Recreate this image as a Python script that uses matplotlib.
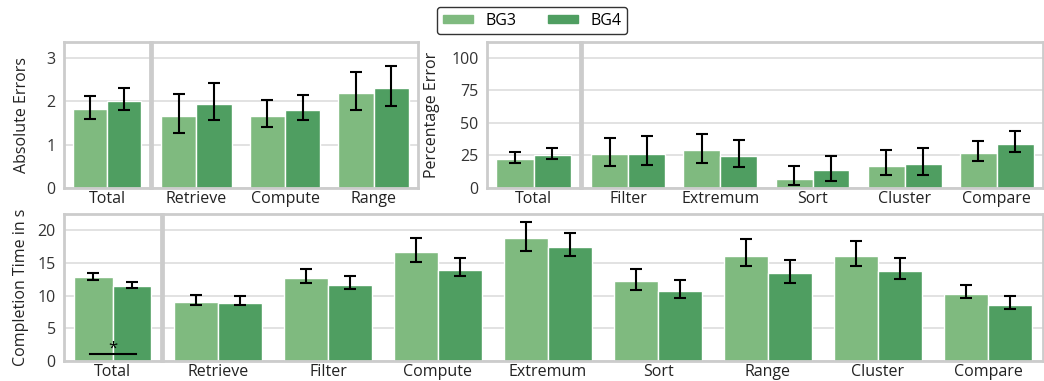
import numpy as np
import matplotlib
matplotlib.use("Agg")
import matplotlib.pyplot as plt
from matplotlib.patches import Patch

plt.rcParams['font.family'] = ['Open Sans', 'DejaVu Sans']
plt.rcParams['font.size'] = 11.5

# ---- data ----
abs_cats = ["Total", "Retrieve", "Compute", "Range"]
abs_bg3 = [1.82, 1.67, 1.67, 2.19]
abs_bg3_lo = [1.60, 1.26, 1.40, 1.81]
abs_bg3_hi = [2.12, 2.18, 2.02, 2.67]
abs_bg4 = [2.01, 1.94, 1.81, 2.30]
abs_bg4_lo = [1.80, 1.57, 1.57, 1.90]
abs_bg4_hi = [2.31, 2.43, 2.15, 2.81]

pct_cats = ["Total", "Filter", "Extremum", "Sort", "Cluster", "Compare"]
pct_bg3 = [22.5, 26.4, 29.5, 7.2, 16.8, 27.1]
pct_bg3_lo = [19.1, 16.5, 19.4, 2.3, 10.1, 20.4]
pct_bg3_hi = [27.4, 38.2, 41.6, 16.5, 28.9, 35.9]
pct_bg4 = [25.1, 26.4, 24.8, 13.7, 18.3, 34.1]
pct_bg4_lo = [22.0, 17.6, 16.3, 5.2, 10.1, 27.4]
pct_bg4_hi = [30.7, 39.8, 37.0, 24.3, 30.5, 43.9]

time_cats = ["Total", "Retrieve", "Filter", "Compute", "Extremum", "Sort",
             "Range", "Cluster", "Compare"]
time_bg3 = [12.8, 9.0, 12.7, 16.7, 18.8, 12.2, 16.1, 16.1, 10.3]
time_bg3_lo = [12.4, 8.6, 11.9, 15.1, 16.8, 10.9, 14.5, 14.5, 9.6]
time_bg3_hi = [13.5, 10.1, 14.1, 18.9, 21.2, 14.1, 18.6, 18.3, 11.6]
time_bg4 = [11.5, 8.95, 11.7, 13.9, 17.5, 10.7, 13.4, 13.8, 8.6]
time_bg4_lo = [11.2, 8.5, 11.0, 13.0, 16.1, 9.6, 11.9, 12.6, 7.9]
time_bg4_hi = [12.1, 9.9, 13.0, 15.7, 19.6, 12.4, 15.5, 15.7, 10.0]

c3 = "#7fba7f"
c4 = "#4f9e61"
spine_c = "#cccccc"
grid_c = "#dddddd"

W, H = 1044, 381
fig = plt.figure(figsize=(W / 100, H / 100), dpi=100)


def box(x0, x1, y0, y1):
    return [x0 / W, 1 - y1 / H, (x1 - x0) / W, (y1 - y0) / H]


def panel(rect, cats, v3, lo3, hi3, v4, lo4, hi4, ylim, yticks, show_y):
    ax = fig.add_axes(rect)
    x = np.arange(len(cats))
    v3, v4 = np.array(v3), np.array(v4)
    ax.bar(x - 0.2, v3, 0.4, color=c3, edgecolor="white", linewidth=1, zorder=2)
    ax.bar(x + 0.2, v4, 0.4, color=c4, edgecolor="white", linewidth=1, zorder=2)
    ax.errorbar(x - 0.2, v3, yerr=[v3 - np.array(lo3), np.array(hi3) - v3],
                fmt="none", ecolor="black", elinewidth=1.5, capsize=4,
                capthick=1.5, zorder=3)
    ax.errorbar(x + 0.2, v4, yerr=[v4 - np.array(lo4), np.array(hi4) - v4],
                fmt="none", ecolor="black", elinewidth=1.5, capsize=4,
                capthick=1.5, zorder=3)
    ax.set_xlim(-0.5, len(cats) - 0.5)
    ax.set_ylim(*ylim)
    ax.set_yticks(yticks)
    ax.set_xticks(x)
    ax.set_xticklabels(cats)
    ax.tick_params(length=0, pad=2, labelcolor="#222222")
    ax.tick_params(axis="y", labelcolor="#333333", pad=6)
    if not show_y:
        ax.set_yticklabels([])
    ax.grid(axis="y", color=grid_c, linewidth=1.2, zorder=0)
    ax.set_axisbelow(True)
    for s in ax.spines.values():
        s.set_color(spine_c)
        s.set_linewidth(2)
    return ax


# top left: absolute errors
a1 = panel(box(64, 150, 42, 188), abs_cats[:1], abs_bg3[:1], abs_bg3_lo[:1], abs_bg3_hi[:1],
           abs_bg4[:1], abs_bg4_lo[:1], abs_bg4_hi[:1], (0, 3.37), [0, 1, 2, 3], True)
a1.set_ylabel("Absolute Errors", labelpad=12, color="#222222")
panel(box(152, 418, 42, 188), abs_cats[1:], abs_bg3[1:], abs_bg3_lo[1:], abs_bg3_hi[1:],
      abs_bg4[1:], abs_bg4_lo[1:], abs_bg4_hi[1:], (0, 3.37), [0, 1, 2, 3], False)

# top right: percentage error
b1 = panel(box(487, 580, 42, 188), pct_cats[:1], pct_bg3[:1], pct_bg3_lo[:1], pct_bg3_hi[:1],
           pct_bg4[:1], pct_bg4_lo[:1], pct_bg4_hi[:1], (0, 112), [0, 25, 50, 75, 100], True)
b1.set_ylabel("Percentage Error", labelpad=8, color="#222222")
panel(box(582, 1043, 42, 188), pct_cats[1:], pct_bg3[1:], pct_bg3_lo[1:], pct_bg3_hi[1:],
      pct_bg4[1:], pct_bg4_lo[1:], pct_bg4_hi[1:], (0, 112), [0, 25, 50, 75, 100], False)

# bottom: completion time
c1 = panel(box(64, 161, 214, 361), time_cats[:1], time_bg3[:1], time_bg3_lo[:1], time_bg3_hi[:1],
           time_bg4[:1], time_bg4_lo[:1], time_bg4_hi[:1], (0, 22.5), [0, 5, 10, 15, 20], True)
c1.set_ylabel("Completion Time in s", labelpad=6, color="#222222")
c1.plot([-0.23, 0.24], [1.1, 1.1], color="black", linewidth=1.5, zorder=4)
c1.text(0.0, 0.7, "*", ha="center", va="bottom", fontsize=12, color="black", zorder=4)
panel(box(163, 1043, 214, 361), time_cats[1:], time_bg3[1:], time_bg3_lo[1:], time_bg3_hi[1:],
      time_bg4[1:], time_bg4_lo[1:], time_bg4_hi[1:], (0, 22.5), [0, 5, 10, 15, 20], False)

handles = [Patch(color=c3, label="BG3"), Patch(color=c4, label="BG4")]
leg = fig.legend(handles=handles, loc="upper center", bbox_to_anchor=(532 / W, 1 - 7 / H),
                 borderaxespad=0, ncol=2, frameon=True, fancybox=True, edgecolor="black",
                 handlelength=1.9, handleheight=0.45, handletextpad=0.75,
                 columnspacing=2.0, borderpad=0.35, fontsize=11.5)
leg.get_frame().set_linewidth(1.0)

fig.savefig("out.png", dpi=100)
